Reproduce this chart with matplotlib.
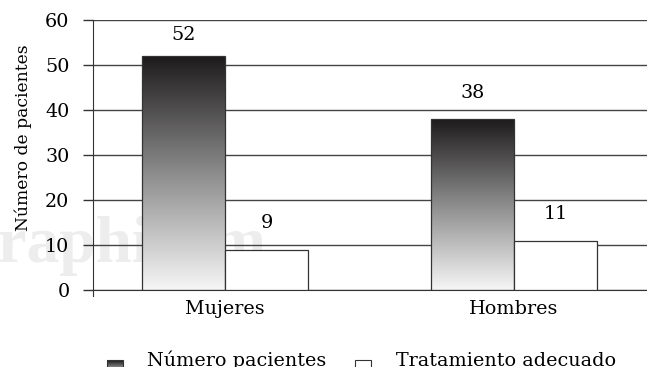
import matplotlib
matplotlib.use("Agg")
import matplotlib.pyplot as plt
import numpy as np
from matplotlib.patches import Rectangle
from matplotlib.legend_handler import HandlerBase
from matplotlib.colors import LinearSegmentedColormap

# data
categorias = ["Mujeres", "Hombres"]
numero_pacientes = [52, 38]
tratamiento_adecuado = [9, 11]
series = ["Número pacientes", "Tratamiento adecuado"]
yticks = [0, 10, 20, 30, 40, 50, 60]

plt.rcParams["font.family"] = "DejaVu Serif"
FS = 13.8
EDGE = "#333333"
grad_cmap = LinearSegmentedColormap.from_list("g", ["#f6f6f6", "#8c8c8c", "#1e1b1c"])


class SquareHandler(HandlerBase):
    # legend square, optionally with vertical gradient, sitting a bit low
    def __init__(self, gradient=False, drop=6):
        super().__init__()
        self.gradient = gradient
        self.drop = drop

    def create_artists(self, legend, orig_handle, xdescent, ydescent,
                       width, height, fontsize, trans):
        x0, y0 = -xdescent, -ydescent - self.drop
        arts = []
        if self.gradient:
            n = 30
            for i in range(n):
                arts.append(Rectangle((x0, y0 + height * i / n), width, height / n + 0.05,
                                      facecolor=grad_cmap(i / (n - 1)), edgecolor="none",
                                      transform=trans))
            arts.append(Rectangle((x0, y0), width, height, fill=False,
                                  edgecolor=EDGE, lw=0.8, transform=trans))
        else:
            arts.append(Rectangle((x0, y0), width, height, facecolor="white",
                                  edgecolor=EDGE, lw=0.8, transform=trans))
        return arts


fig = plt.figure(figsize=(6.47, 3.67), dpi=100)
ax = fig.add_axes([93 / 647, 1 - 290 / 367, 554 / 647, 270 / 367])
ax.set_facecolor("none")
ax.set_zorder(1)

# faint watermark behind the plot
fig.text(-52 / 647, 1 - 262 / 367, "Graphicom", fontsize=47, fontweight="bold",
         family="Liberation Serif", color="#ededed", ha="left", va="baseline", zorder=0)

x = np.arange(len(categorias))
w = 0.287
b1 = ax.bar(x - w / 2, numero_pacientes, w, facecolor="none", edgecolor=EDGE,
            lw=0.9, zorder=3)
b2 = ax.bar(x + w / 2, tratamiento_adecuado, w, facecolor="white", edgecolor=EDGE,
            lw=0.9, zorder=3)

grad = np.linspace(0, 1, 256).reshape(-1, 1)
for r in b1:
    ax.imshow(grad, extent=[r.get_x(), r.get_x() + r.get_width(), 0, r.get_height()],
              origin="lower", aspect="auto", cmap=grad_cmap, zorder=2)

for bars, vals in ((b1, numero_pacientes), (b2, tratamiento_adecuado)):
    for r, v in zip(bars, vals):
        off = 19 if v < 50 else 15
        ax.annotate(str(v), (r.get_x() + r.get_width() / 2, v), xytext=(0, off),
                    textcoords="offset points", ha="center", va="center", fontsize=FS)

ax.set_xlim(-0.457, 1.46)
ax.set_ylim(0, 60)
ax.set_yticks(yticks)
ax.set_xticks(x)
ax.set_xticklabels(categorias, fontsize=FS)
ax.tick_params(axis="x", length=0, pad=7)
ax.tick_params(axis="y", length=7, width=1, color=EDGE, pad=10, labelsize=FS)
ax.yaxis.grid(True, color="#444444", lw=1)
ax.set_axisbelow(True)
for s in ("top", "right"):
    ax.spines[s].set_visible(False)
ax.spines["bottom"].set_color(EDGE)
ax.spines["left"].set_color(EDGE)
ax.spines["left"].set_bounds(-1.4, 60)

ax.set_ylabel("Número de pacientes", fontsize=12.3)
ax.yaxis.set_label_coords(-0.11, 0.565)

h1 = Rectangle((0, 0), 1, 1)
h2 = Rectangle((0, 0), 1, 1)
fig.legend([h1, h2], series, loc="lower left", bbox_to_anchor=(107 / 647, -0.008),
           ncol=2, frameon=False, fontsize=FS, handlelength=0.82, handleheight=0.85,
           handletextpad=1.29, columnspacing=1.5, borderpad=0, borderaxespad=0,
           handler_map={h1: SquareHandler(True), h2: SquareHandler(False)})

fig.savefig("out.png", dpi=100, facecolor="white")
